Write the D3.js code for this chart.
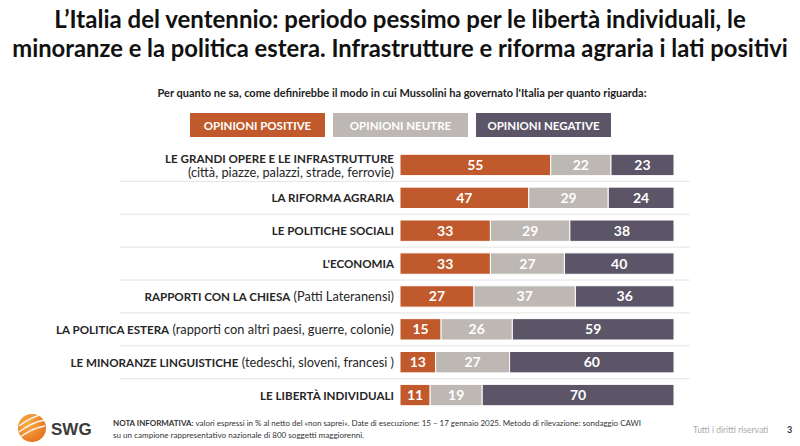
<!DOCTYPE html>
<html><head><meta charset="utf-8">
<script src="https://cdn.jsdelivr.net/npm/d3@7"></script>
<style>
body{margin:0;background:#fff;}
svg{display:block;font-family:Lato,"Open Sans",sans-serif;}
</style></head>
<body><svg id="c" width="800" height="446"></svg>
<script>
const categories = ["grandi_opere","riforma_agraria","politiche_sociali","economia","chiesa","politica_estera","minoranze","liberta"];
const labelBold = ["LE GRANDI OPERE E LE INFRASTRUTTURE","LA RIFORMA AGRARIA","LE POLITICHE SOCIALI","L'ECONOMIA","RAPPORTI CON LA CHIESA","LA POLITICA ESTERA","LE MINORANZE LINGUISTICHE","LE LIBERTÀ INDIVIDUALI"];
const labelNote = ["(città, piazze, palazzi, strade, ferrovie)","","","","(Patti Lateranensi)","(rapporti con altri paesi, guerre, colonie)","(tedeschi, sloveni, francesi )",""];
const positive = [55,47,33,33,27,15,13,11];
const neutral  = [22,29,29,27,37,26,27,19];
const negative = [23,24,38,40,36,59,60,70];
const seriesNames = ["OPINIONI POSITIVE","OPINIONI NEUTRE","OPINIONI NEGATIVE"];
const colors = ["#C0592B","#BDB8B3","#5B5567"];
const titleLines = ["L’Italia del ventennio: periodo pessimo per le libertà individuali, le","minoranze e la politica estera. Infrastrutture e riforma agraria i lati positivi"];
const subtitle = "Per quanto ne sa, come definirebbe il modo in cui Mussolini ha governato l'Italia per quanto riguarda:";
const noteLines = ["valori espressi in % al netto del «non saprei». Date di esecuzione: 15 – 17 gennaio 2025. Metodo di rilevazione: sondaggio CAWI","su un campione rappresentativo nazionale di 800 soggetti maggiorenni."];

const svg = d3.select("#c");
const x = d3.scaleLinear().domain([0,100]).range([400,674]);
const y = d3.scaleBand().domain(categories).range([148.5,411.5]).paddingInner(0.35).paddingOuter(0.175);

// helper: horizontally condensed text to fit a width
function condensed(cx, cy, str, width, attrs){
  const gg = svg.append("g");
  const t = gg.append("text").attr("x",0).attr("y",0).attr("text-anchor","middle").text(str);
  Object.entries(attrs).forEach(([k,v])=>t.attr(k,v));
  const w = t.node().getComputedTextLength();
  const s = Math.min(1, width / w);
  gg.attr("transform",`translate(${cx},${cy}) scale(${s},1)`);
  return gg;
}

// title
const titleW = [692,776];
titleLines.forEach((s,i)=>{
  condensed(400, 28+i*29, s, titleW[i], {"font-weight":"bold","font-size":25,"fill":"#111"});
});
condensed(402, 97, subtitle, 498, {"font-weight":"bold","font-size":11,"fill":"#222"});

// legend
const legX = [190,333,476], legW = 135;
seriesNames.forEach((n,i)=>{
  svg.append("rect").attr("x",legX[i]).attr("y",113).attr("width",legW).attr("height",24).attr("fill",colors[i]);
  svg.append("text").attr("x",legX[i]+legW/2).attr("y",129.5).attr("text-anchor","middle")
    .attr("font-size",11.5).attr("font-weight","bold").attr("fill","#fff").text(n);
});

// separators
categories.slice(0,-1).forEach((c,i)=>{
  const yy = y(c)+y.bandwidth()+ (y.step()-y.bandwidth())/2;
  svg.append("line").attr("x1",120).attr("x2",690).attr("y1",yy).attr("y2",yy)
    .attr("stroke","#e4e4e4").attr("stroke-width",1);
});

// bars
const data = categories.map((c,i)=>({c, vals:[positive[i],neutral[i],negative[i]]}));
data.forEach(d=>{
  let acc=0;
  d.vals.forEach((v,k)=>{
    const x0=x(acc), x1=x(acc+v);
    svg.append("rect").attr("x",x0).attr("y",y(d.c)).attr("width",x1-x0).attr("height",y.bandwidth())
      .attr("fill",colors[k]).attr("stroke","#fff").attr("stroke-width",1);
    svg.append("text").attr("x",(x0+x1)/2).attr("y",y(d.c)+y.bandwidth()/2+5).attr("text-anchor","middle")
      .attr("font-size",14).attr("font-weight","bold").attr("fill","#fff").text(v);
    acc+=v;
  });
});

// labels
const boldSize = 11.6, normSize = 12.8;
categories.forEach((c,i)=>{
  const cy = y(c)+y.bandwidth()/2;
  if(i===0){
    svg.append("text").attr("x",394).attr("y",cy-2).attr("text-anchor","end")
      .attr("font-size",boldSize).attr("font-weight","bold").attr("fill","#262626").text(labelBold[i]);
    svg.append("text").attr("x",394).attr("y",cy+12.5).attr("text-anchor","end")
      .attr("font-size",normSize).attr("fill","#262626").text(labelNote[i]);
  } else {
    const tx = svg.append("text").attr("x",394).attr("y",cy+4.5).attr("text-anchor","end")
      .attr("fill","#262626");
    tx.append("tspan").attr("font-weight","bold").attr("font-size",boldSize).text(labelBold[i]);
    if(labelNote[i]) tx.append("tspan").attr("font-size",normSize).text(" "+labelNote[i]);
  }
});

// footer logo
const defs = svg.append("defs");
const g = defs.append("radialGradient").attr("id","lg").attr("cx","35%").attr("cy","35%").attr("r","70%");
g.append("stop").attr("offset","0%").attr("stop-color","#F7B04A");
g.append("stop").attr("offset","100%").attr("stop-color","#E8731E");
svg.append("circle").attr("cx",32).attr("cy",428).attr("r",14).attr("fill","url(#lg)");
[-6,0,6].forEach(o=>{
  svg.append("path").attr("d",`M${19} ${428+o+4} Q 32 ${428+o-6} 45 ${428+o-8}`)
    .attr("fill","none").attr("stroke","#fff").attr("stroke-width",1.3).attr("opacity",0.9);
});
svg.append("text").attr("x",51).attr("y",435).attr("font-family","'Liberation Sans',Arial,sans-serif")
  .attr("font-weight","bold").attr("font-size",17).attr("fill","#3a3a3a").text("SWG");
const nt = svg.append("text").attr("x",113).attr("y",426).attr("font-size",8).attr("fill","#333")
  .attr("textLength",528).attr("lengthAdjust","spacingAndGlyphs");
nt.append("tspan").attr("font-weight","bold").text("NOTA INFORMATIVA: ");
nt.append("tspan").text(noteLines[0]);
svg.append("text").attr("x",113).attr("y",438).attr("font-size",8).attr("fill","#333")
  .attr("textLength",251).attr("lengthAdjust","spacingAndGlyphs").text(noteLines[1]);
svg.append("text").attr("x",693).attr("y",433).attr("font-size",8.5).attr("fill","#aaa").text("Tutti i diritti riservati");
svg.append("text").attr("x",787).attr("y",433).attr("font-size",9).attr("font-weight","bold").attr("fill","#333").text("3");
</script></body></html>
